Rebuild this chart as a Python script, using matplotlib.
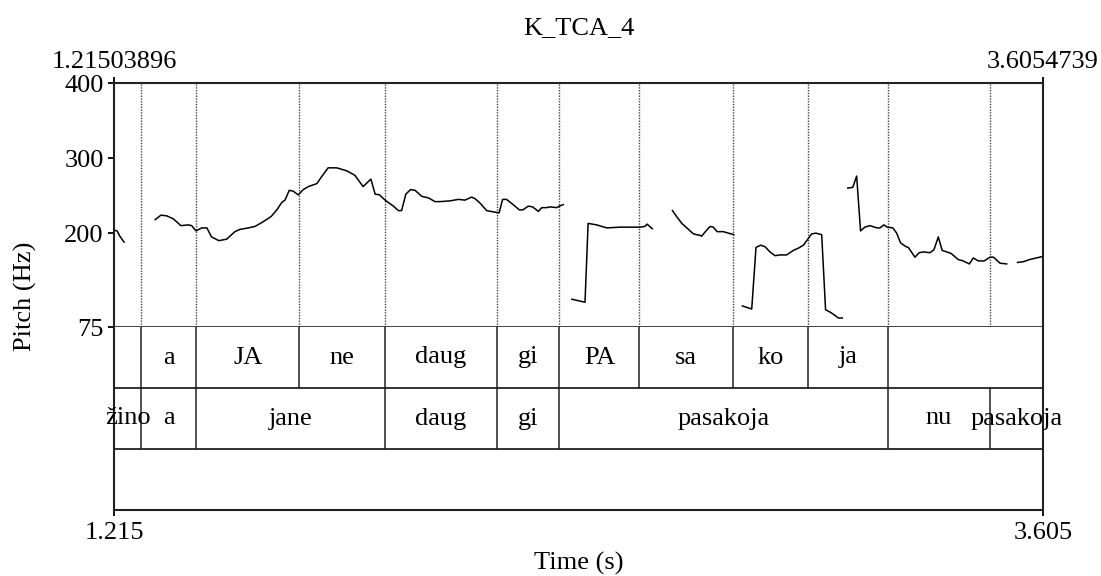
import matplotlib
matplotlib.use("Agg")
import matplotlib.pyplot as plt

# Eje temporal
t_inicio = 1.21503896
t_fin = 3.6054739

# Curva de pitch (Hz), un tramo por segmento sonoro
seg1_t = [1.215, 1.223, 1.230, 1.241]
seg1_f = [204, 203, 196, 188]
seg2_t = [1.321, 1.336, 1.351, 1.368, 1.387, 1.406, 1.415, 1.426, 1.441, 1.454,
          1.466, 1.485, 1.505, 1.526, 1.539, 1.561, 1.578, 1.595, 1.619, 1.634,
          1.647, 1.655, 1.666, 1.676, 1.689, 1.702, 1.715, 1.737, 1.749, 1.766,
          1.788, 1.814, 1.835, 1.856, 1.876, 1.887, 1.898, 1.915, 1.934, 1.947,
          1.955, 1.966, 1.978, 1.990, 2.007, 2.024, 2.041, 2.054, 2.080, 2.101,
          2.118, 2.135, 2.144, 2.157, 2.174, 2.195, 2.206, 2.215, 2.225, 2.242,
          2.258, 2.267, 2.281, 2.292, 2.307, 2.316, 2.328, 2.337, 2.354, 2.361,
          2.371]
seg2_f = [218, 224, 223, 219, 210, 211, 210, 203, 207, 207,
          195, 190, 192, 202, 205, 207, 209, 214, 222, 231,
          241, 244, 257, 256, 251, 258, 262, 266, 275, 287,
          287, 283, 277, 262, 272, 252, 251, 243, 236, 230,
          230, 252, 258, 257, 249, 247, 242, 242, 243, 245,
          244, 248, 246, 240, 230, 228, 227, 245, 245, 238,
          231, 231, 236, 235, 229, 234, 234, 235, 234, 236,
          238]
seg3_t = [2.393, 2.427, 2.435, 2.457, 2.483, 2.517, 2.534, 2.568, 2.581, 2.587, 2.600]
seg3_f = [112, 108, 213, 211, 207, 208, 208, 208, 209, 212, 206]
seg4_t = [2.652, 2.663, 2.676, 2.689, 2.706, 2.723, 2.727, 2.740, 2.749, 2.757,
          2.767, 2.783, 2.796, 2.810]
seg4_f = [230, 222, 213, 207, 199, 197, 196, 204, 209, 208,
          202, 202, 200, 198]
seg5_t = [2.832, 2.856, 2.867, 2.879, 2.890, 2.903, 2.916, 2.929, 2.946, 2.963,
          2.976, 2.989, 2.999, 3.010, 3.021, 3.036, 3.046, 3.057, 3.066, 3.079,
          3.089]
seg5_f = [103, 99, 181, 184, 182, 175, 170, 171, 171, 177,
          180, 184, 191, 199, 200, 198, 98, 95, 92, 87,
          87]
seg6_t = [3.103, 3.116, 3.126, 3.136, 3.147, 3.160, 3.178, 3.186, 3.196, 3.205,
          3.219, 3.229, 3.239, 3.253, 3.259, 3.276, 3.287, 3.297, 3.315, 3.325,
          3.336, 3.346, 3.358, 3.369, 3.387, 3.400, 3.416, 3.426, 3.439, 3.454,
          3.469, 3.478, 3.495, 3.512]
seg6_f = [260, 261, 276, 203, 208, 210, 207, 207, 211, 208,
          207, 200, 187, 182, 181, 168, 174, 175, 174, 178,
          195, 177, 175, 173, 165, 163, 159, 167, 163, 163,
          168, 168, 160, 159]
seg7_t = [3.540, 3.555, 3.572, 3.589, 3.605]
seg7_f = [161, 162, 165, 167, 169]

segmentos = [(seg1_t, seg1_f), (seg2_t, seg2_f), (seg3_t, seg3_f), (seg4_t, seg4_f),
             (seg5_t, seg5_f), (seg6_t, seg6_f), (seg7_t, seg7_f)]

# Marcas del eje de pitch
y_ticks = [75, 200, 300, 400]

# Tiers del TextGrid
silabas_lim = [t_inicio, 1.285, 1.426, 1.692, 1.913, 2.200, 2.361, 2.567, 2.807, 3.001, 3.206, t_fin]
silabas = ["", "a", "JA", "ne", "daug", "gi", "PA", "sa", "ko", "ja", ""]
palabras_lim = [t_inicio, 1.285, 1.426, 1.913, 2.200, 2.361, 3.206, 3.468, t_fin]
palabras = ["žino", "a", "jane", "daug", "gi", "pasakoja", "nu", "pasakoja"]

plt.rcParams['font.family'] = ['Liberation Serif', 'DejaVu Serif']
fs = 19
W, H = 1101, 576

fig = plt.figure(figsize=(W / 100, H / 100), dpi=100)
izq, der, arriba, medio, abajo = 114, 1043, 83, 327, 510

ax = fig.add_axes([izq / W, 1 - medio / H, (der - izq) / W, (medio - arriba) / H])
tax = fig.add_axes([izq / W, 1 - abajo / H, (der - izq) / W, (abajo - medio) / H])

# Lineas punteadas de los limites en la zona de pitch
limites = sorted(set(silabas_lim[1:-1]) | set(palabras_lim[1:-1]))
for b in limites:
    ax.axvline(b, color='#444444', lw=1.0, ls=(0, (1, 1)), zorder=1)

for t, f in segmentos:
    ax.plot(t, f, color='black', lw=1.1, zorder=3)

ax.set_xlim(t_inicio, t_fin)
ax.set_ylim(75, 400)
ax.set_yticks(y_ticks)
ax.set_yticklabels([str(v) for v in y_ticks])
ax.xaxis.tick_top()
ax.set_xticks([t_inicio, t_fin])
ax.set_xticklabels(["1.21503896", "3.6054739"])
ax.tick_params(axis='both', direction='out', length=4.5, width=1.3, labelsize=fs,
               pad=3, color='black')
for s in ax.spines.values():
    s.set_linewidth(1.5)
    s.set_color('#222222')
ax.spines['bottom'].set_linewidth(1.2)

# Tiers
tax.set_xlim(t_inicio, t_fin)
tax.set_ylim(0, 3)
for y in [1, 2]:
    tax.axhline(y, color='#222222', lw=1.3)
for b in silabas_lim[1:-1]:
    tax.plot([b, b], [2, 3], color='#222222', lw=1.1)
for b in palabras_lim[1:-1]:
    tax.plot([b, b], [1, 2], color='#222222', lw=1.1)
for i, lab in enumerate(silabas):
    xm = (silabas_lim[i] + silabas_lim[i + 1]) / 2
    tax.text(xm, 2.5, lab, ha='center', va='center', fontsize=fs)
for i, lab in enumerate(palabras):
    xm = (palabras_lim[i] + palabras_lim[i + 1]) / 2
    tax.text(xm, 1.5, lab, ha='center', va='center', fontsize=fs)

tax.set_yticks([])
tax.set_xticks([t_inicio, t_fin])
tax.set_xticklabels(["1.215", "3.605"])
tax.tick_params(axis='x', direction='out', length=4.5, width=1.3, labelsize=fs, pad=4)
for s in tax.spines.values():
    s.set_linewidth(1.5)
    s.set_color('#222222')
tax.spines['top'].set_visible(False)

# Titulos y etiquetas
fig.text((izq + der) / 2 / W, 1 - 28 / H, "K_TCA_4", ha='center', va='center', fontsize=fs)
fig.text((izq + der) / 2 / W, 1 - 563 / H, "Time (s)", ha='center', va='center', fontsize=fs)
fig.text(25 / W, 1 - 296 / H, "Pitch (Hz)", ha='center', va='center', rotation=90, fontsize=fs)

plt.savefig('out.png', dpi=100)
plt.close()
